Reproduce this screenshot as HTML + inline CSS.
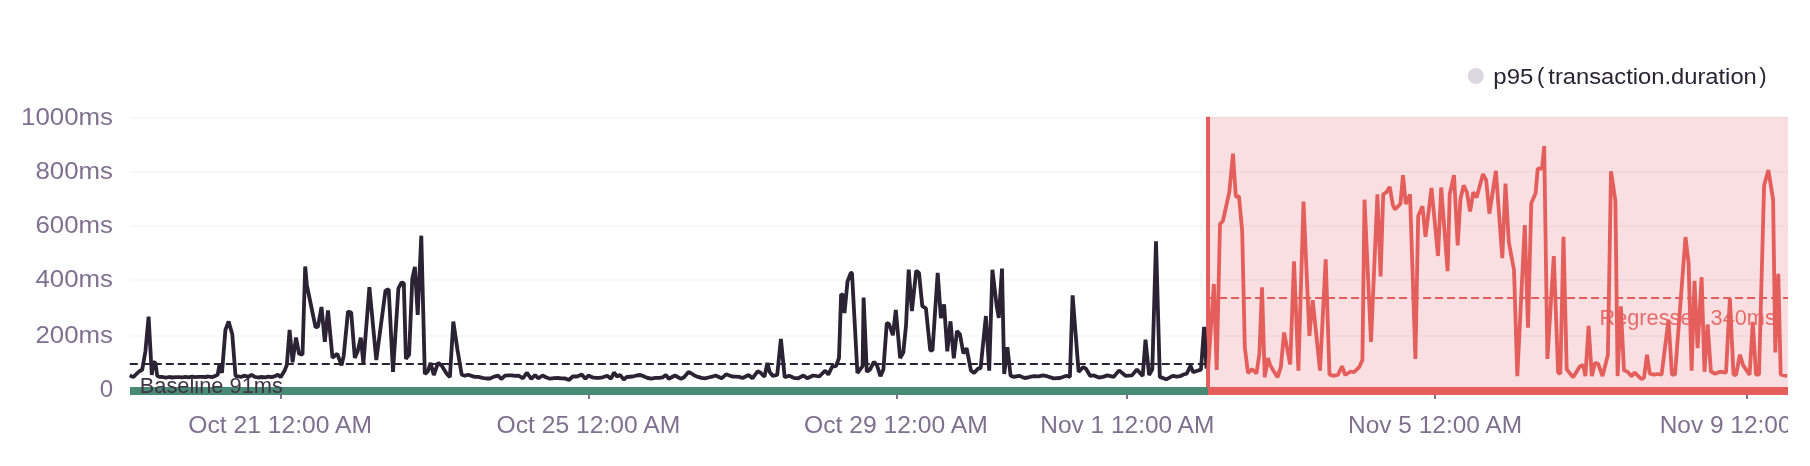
<!DOCTYPE html>
<html><head><meta charset="utf-8"><style>
html,body{margin:0;padding:0;background:#fff;width:1810px;height:466px;overflow:hidden}
svg{display:block;font-family:"Liberation Sans",sans-serif;will-change:transform}
</style></head><body>
<svg width="1810" height="466" viewBox="0 0 1810 466">
<defs><clipPath id="cp"><rect x="0" y="0" width="1788" height="466"/></clipPath></defs>
<circle cx="1475.8" cy="76" r="8" fill="#dbd8e0"/>
<g font-size="22" fill="#2b2233"><text x="1493.3" y="83.6" textLength="40" lengthAdjust="spacingAndGlyphs">p95</text><text x="1537" y="83">(</text><text x="1548.3" y="83.6" textLength="208.5" lengthAdjust="spacingAndGlyphs">transaction.duration</text><text x="1759.3" y="83">)</text></g>
<text x="113" y="124.7" font-size="24" fill="#80708f" text-anchor="end" textLength="92" lengthAdjust="spacingAndGlyphs">1000ms</text>
<text x="113" y="178.7" font-size="24" fill="#80708f" text-anchor="end" textLength="77.5" lengthAdjust="spacingAndGlyphs">800ms</text>
<text x="113" y="232.7" font-size="24" fill="#80708f" text-anchor="end" textLength="77.5" lengthAdjust="spacingAndGlyphs">600ms</text>
<text x="113" y="286.7" font-size="24" fill="#80708f" text-anchor="end" textLength="77.5" lengthAdjust="spacingAndGlyphs">400ms</text>
<text x="113" y="342.7" font-size="24" fill="#80708f" text-anchor="end" textLength="77.5" lengthAdjust="spacingAndGlyphs">200ms</text>
<text x="113" y="396.6" font-size="24" fill="#80708f" text-anchor="end">0</text>
<rect x="1206" y="116.8" width="582" height="272.7" fill="#f9dfe1"/>
<line x1="130" y1="336.0" x2="1788" y2="336.0" stroke="#3e2d5c" stroke-opacity="0.035" stroke-width="2"/>
<line x1="130" y1="280.0" x2="1788" y2="280.0" stroke="#3e2d5c" stroke-opacity="0.035" stroke-width="2"/>
<line x1="130" y1="226.0" x2="1788" y2="226.0" stroke="#3e2d5c" stroke-opacity="0.035" stroke-width="2"/>
<line x1="130" y1="172.0" x2="1788" y2="172.0" stroke="#3e2d5c" stroke-opacity="0.035" stroke-width="2"/>
<line x1="130" y1="118.0" x2="1788" y2="118.0" stroke="#3e2d5c" stroke-opacity="0.035" stroke-width="2"/>
<rect x="1206" y="116.8" width="4" height="272.7" fill="#e45e5c"/>
<line x1="129.8" y1="364.0" x2="1208" y2="364.0" stroke="#2b2233" stroke-width="2" stroke-dasharray="8 4"/>
<line x1="1207.1" y1="298.0" x2="1788" y2="298.0" stroke="#e45e5c" stroke-width="2" stroke-dasharray="8 4"/>
<path d="M129.7,375.4 L133.2,377.1 L139.0,371.5 L142.2,369.8 L145.4,351.5 L148.6,316.7 L151.8,375.0 L153.3,361.9 L155.5,362.9 L157.2,375.8 L159.3,376.9 L162.6,377.0 L165.9,377.7 L169.1,377.0 L172.4,377.5 L175.7,377.2 L179.0,377.1 L182.2,377.4 L185.5,376.8 L188.8,377.4 L192.1,376.7 L195.3,377.2 L198.6,376.8 L201.9,376.9 L205.2,377.0 L208.4,376.5 L211.7,377.1 L215.0,376.2 L217.7,374.7 L219.4,365.1 L222.0,372.9 L225.4,330.0 L228.6,321.5 L232.3,334.3 L235.5,375.8 L240.9,376.9 L244.0,375.7 L248.4,376.9 L251.6,374.7 L254.8,376.9 L258.2,377.5 L261.6,377.0 L265.0,377.4 L268.4,376.6 L271.8,377.1 L275.2,376.2 L277.8,374.7 L280.6,377.2 L284.7,370.4 L286.8,365.1 L289.6,330.0 L292.6,362.2 L296.0,337.6 L299.0,353.6 L302.5,354.7 L305.2,266.5 L306.8,285.0 L315.5,327.0 L317.9,326.8 L321.5,307.0 L324.8,341.8 L328.0,310.5 L332.5,357.9 L337.2,353.6 L341.5,365.4 L343.7,355.8 L348.0,311.5 L351.2,312.5 L354.8,357.9 L357.6,351.5 L360.8,337.6 L363.4,363.2 L369.4,287.2 L376.3,360.0 L385.5,290.5 L388.7,289.4 L393.0,371.8 L398.4,288.3 L401.6,282.5 L403.8,283.0 L405.9,358.9 L409.1,354.7 L412.3,278.6 L414.9,266.8 L417.7,315.0 L421.3,235.7 L424.8,374.0 L427.8,371.5 L430.6,362.9 L433.8,375.0 L438.1,362.9 L441.3,365.1 L446.7,373.7 L449.9,377.2 L453.3,321.5 L457.4,349.4 L461.7,374.7 L465.0,375.7 L468.1,374.7 L474.6,376.9 L478.5,376.8 L482.3,377.8 L486.1,378.5 L490.0,378.5 L494.1,376.6 L498.3,375.7 L501.3,379.0 L505.0,375.7 L508.4,375.4 L511.8,375.3 L515.2,375.8 L518.6,375.7 L523.0,378.3 L526.8,372.7 L531.3,378.8 L535.1,375.0 L538.1,378.3 L542.6,375.5 L546.4,377.5 L550.1,378.7 L553.9,378.2 L557.7,378.0 L561.4,378.4 L565.2,378.5 L568.9,380.0 L572.7,376.5 L577.2,376.5 L581.7,374.6 L585.4,378.8 L588.4,375.5 L592.2,377.3 L595.7,377.8 L599.2,377.8 L602.7,377.3 L607.2,375.7 L611.0,378.8 L614.0,372.5 L617.0,376.5 L620.0,375.0 L623.8,379.4 L626.8,377.0 L632.8,376.5 L636.5,375.5 L640.3,375.0 L644.0,376.4 L647.8,378.0 L651.5,378.6 L655.3,377.9 L659.0,377.9 L662.8,377.3 L665.8,375.0 L668.8,378.8 L675.0,375.5 L681.0,378.8 L684.0,377.3 L688.5,372.0 L691.5,373.5 L694.5,375.5 L698.0,376.9 L701.5,377.9 L705.0,378.3 L708.5,377.5 L712.1,376.7 L715.6,375.5 L721.6,378.3 L726.1,374.3 L732.1,376.5 L735.6,376.7 L739.1,376.9 L742.6,378.0 L748.6,375.0 L752.4,378.3 L757.6,371.3 L760.6,372.8 L764.4,376.8 L767.4,363.0 L769.7,372.0 L772.7,375.8 L777.2,375.0 L780.9,339.0 L784.7,377.3 L789.2,375.8 L793.7,377.8 L798.2,378.3 L803.5,375.5 L807.2,378.3 L813.2,375.5 L819.3,376.5 L825.3,370.5 L828.3,374.6 L832.2,366.5 L836.0,366.2 L839.0,358.0 L841.1,294.3 L843.0,295.0 L844.5,313.0 L847.5,281.5 L850.8,272.9 L852.0,273.0 L857.4,373.0 L862.6,366.2 L863.6,297.6 L866.8,371.8 L870.1,369.4 L873.9,361.9 L876.9,365.1 L880.4,376.1 L883.4,369.4 L886.8,323.0 L889.0,324.0 L892.9,335.2 L895.8,310.0 L900.1,358.0 L903.3,352.5 L906.0,325.8 L908.7,269.7 L911.9,311.0 L916.2,270.7 L919.0,272.9 L922.3,306.2 L925.9,308.3 L930.2,350.3 L932.5,350.4 L937.7,272.9 L940.9,318.0 L944.1,304.5 L947.3,351.3 L950.5,321.3 L953.8,358.3 L957.0,331.0 L959.9,334.2 L963.4,353.5 L966.6,348.2 L970.9,370.4 L974.1,372.9 L978.4,368.3 L980.6,368.3 L985.9,316.0 L989.2,370.7 L992.4,269.7 L996.7,306.1 L998.8,317.9 L1002.0,268.6 L1004.2,374.0 L1007.4,347.2 L1010.6,375.8 L1013.8,376.9 L1019.2,375.8 L1024.6,378.0 L1027.8,377.5 L1031.1,376.6 L1034.3,376.2 L1038.6,376.3 L1042.9,375.4 L1047.0,376.2 L1053.6,378.4 L1060.0,378.0 L1066.5,375.8 L1069.9,376.9 L1072.6,295.3 L1078.6,371.8 L1083.2,367.2 L1086.0,368.7 L1090.1,375.8 L1094.0,375.4 L1098.7,377.5 L1103.0,376.9 L1107.3,375.4 L1113.7,376.9 L1119.1,370.4 L1125.5,375.8 L1132.0,375.4 L1136.9,369.4 L1142.7,376.1 L1145.5,339.7 L1149.1,375.0 L1152.3,369.4 L1156.0,241.2 L1159.8,376.9 L1166.3,379.3 L1172.7,375.8 L1177.0,376.7 L1180.2,376.2 L1183.5,374.5 L1186.7,373.7 L1190.5,365.7 L1193.2,372.2 L1198.7,370.3 L1201.0,369.7 L1204.1,326.8 L1206.5,368.7" fill="none" stroke="#2b2233" stroke-width="3.8" stroke-linejoin="bevel"/>
<path d="M1208.0,370.7 L1213.9,284.0 L1216.7,370.0 L1220.0,224.0 L1222.9,221.0 L1229.3,192.2 L1233.0,153.6 L1235.8,196.5 L1239.0,196.5 L1242.2,231.5 L1244.8,347.2 L1248.0,373.0 L1252.0,369.2 L1256.5,373.5 L1259.4,353.6 L1262.0,287.3 L1264.7,377.2 L1268.0,358.0 L1270.1,365.1 L1273.3,370.4 L1277.6,377.2 L1280.8,367.2 L1284.1,332.5 L1290.2,364.5 L1294.0,261.4 L1298.4,370.6 L1303.5,201.6 L1309.4,335.9 L1312.7,300.2 L1320.0,370.6 L1325.7,259.4 L1329.5,374.7 L1334.5,375.8 L1338.0,374.7 L1342.0,366.2 L1345.2,375.0 L1350.6,371.5 L1354.0,372.2 L1359.2,367.2 L1362.4,360.0 L1364.5,199.7 L1371.0,341.8 L1377.4,194.4 L1380.6,276.5 L1383.2,194.4 L1386.4,192.2 L1389.7,186.9 L1392.9,205.1 L1395.0,209.3 L1398.2,206.2 L1400.4,204.0 L1403.0,175.1 L1405.8,204.0 L1410.0,194.4 L1415.4,359.0 L1418.2,216.0 L1422.5,206.2 L1425.5,236.8 L1431.5,187.9 L1438.0,256.0 L1441.2,187.5 L1447.6,271.1 L1449.7,194.4 L1454.0,175.1 L1457.7,245.3 L1460.5,198.7 L1463.7,185.4 L1466.9,192.2 L1470.1,211.5 L1473.3,192.2 L1476.6,197.5 L1483.0,174.0 L1486.2,180.4 L1489.4,213.6 L1495.9,170.8 L1502.3,258.2 L1505.5,183.6 L1508.8,242.0 L1514.0,270.0 L1517.3,376.1 L1524.8,225.0 L1528.0,327.8 L1531.3,203.0 L1535.6,193.3 L1537.7,168.6 L1542.0,168.6 L1544.2,146.1 L1547.4,359.0 L1553.8,256.1 L1558.1,372.6 L1560.3,373.7 L1563.5,236.8 L1566.7,369.4 L1573.1,377.2 L1580.0,366.2 L1583.2,365.1 L1585.4,376.1 L1588.6,325.8 L1591.8,376.1 L1595.0,362.9 L1598.2,364.0 L1602.5,376.1 L1607.9,355.0 L1611.0,171.3 L1615.4,200.8 L1617.6,376.1 L1620.8,306.4 L1624.0,370.5 L1627.2,371.5 L1631.5,376.1 L1634.7,372.6 L1641.2,379.0 L1644.0,377.7 L1647.0,354.7 L1649.8,373.7 L1654.0,374.7 L1657.8,374.0 L1661.6,374.7 L1668.5,319.7 L1671.9,374.7 L1675.0,374.7 L1685.5,237.1 L1688.6,263.0 L1691.6,370.8 L1694.5,280.8 L1697.6,348.2 L1701.6,277.2 L1704.5,371.8 L1707.6,324.5 L1710.9,371.5 L1715.2,373.7 L1720.0,371.7 L1726.0,372.6 L1729.9,298.5 L1733.5,374.7 L1736.0,375.2 L1739.9,354.7 L1743.1,365.1 L1749.6,375.0 L1752.8,321.8 L1756.0,374.7 L1759.0,374.7 L1764.1,185.5 L1768.4,170.1 L1773.1,199.6 L1775.3,352.5 L1778.3,273.7 L1780.7,374.7 L1787.1,375.8" fill="none" stroke="#e45e5c" stroke-width="3.8" stroke-linejoin="bevel"/>
<rect x="130" y="387" width="1078" height="8" fill="#488a73"/>
<rect x="1208" y="387" width="580" height="8" fill="#e45e5c"/>
<text x="139.7" y="392.6" font-size="21.5" fill="#3e3446" textLength="143.3" lengthAdjust="spacingAndGlyphs">Baseline 91ms</text>
<text x="1599.5" y="324.6" font-size="21.5" fill="#e45e5c" fill-opacity="0.9" textLength="176.3" lengthAdjust="spacingAndGlyphs">Regressed 340ms</text>
<rect x="280" y="394.7" width="2" height="4.2" fill="#80708f"/>
<rect x="588" y="394.7" width="2" height="4.2" fill="#80708f"/>
<rect x="896" y="394.7" width="2" height="4.2" fill="#80708f"/>
<rect x="1126" y="394.7" width="2" height="4.2" fill="#80708f"/>
<rect x="1434" y="394.7" width="2" height="4.2" fill="#80708f"/>
<rect x="1746" y="394.7" width="2" height="4.2" fill="#80708f"/>
<g clip-path="url(#cp)">
<text x="280.2" y="433.1" font-size="24" fill="#80708f" text-anchor="middle" textLength="183.7" lengthAdjust="spacingAndGlyphs">Oct 21 12:00 AM</text>
<text x="588.4" y="433.1" font-size="24" fill="#80708f" text-anchor="middle" textLength="183.7" lengthAdjust="spacingAndGlyphs">Oct 25 12:00 AM</text>
<text x="895.9" y="433.1" font-size="24" fill="#80708f" text-anchor="middle" textLength="183.7" lengthAdjust="spacingAndGlyphs">Oct 29 12:00 AM</text>
<text x="1127.3" y="433.1" font-size="24" fill="#80708f" text-anchor="middle" textLength="174" lengthAdjust="spacingAndGlyphs">Nov 1 12:00 AM</text>
<text x="1435" y="433.1" font-size="24" fill="#80708f" text-anchor="middle" textLength="174" lengthAdjust="spacingAndGlyphs">Nov 5 12:00 AM</text>
<text x="1746.7" y="433.1" font-size="24" fill="#80708f" text-anchor="middle" textLength="174" lengthAdjust="spacingAndGlyphs">Nov 9 12:00 AM</text>
</g>
</svg>
</body></html>
